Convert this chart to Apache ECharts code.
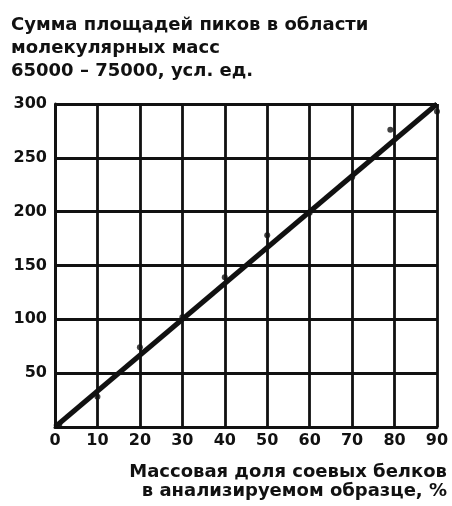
<!DOCTYPE html>
<html>
<head>
<meta charset="utf-8">
<script src="https://cdn.jsdelivr.net/npm/echarts@6/dist/echarts.min.js"></script>
<style>html,body{margin:0;padding:0;background:#fff}#c{width:452px;height:506px}</style>
</head>
<body>
<div id="c"></div>
<script>
const titleLines = ['Сумма площадей пиков в области', 'молекулярных масс', '65000 – 75000, усл. ед.'];
const xNameLines = ['Массовая доля соевых белков', 'в анализируемом образце, %'];
const pointX = [1, 10, 20, 30, 40, 50, 60, 70, 79, 90];
const pointY = [2, 28, 74, 102, 139, 178, 199, 232, 276, 293];
const lineX = [0, 90];
const lineY = [0, 300];
const xTicks = [0, 10, 20, 30, 40, 50, 60, 70, 80, 90];
const yTicks = [0, 50, 100, 150, 200, 250, 300];

const font = 'DejaVu Sans';
const chart = echarts.init(document.getElementById('c'));
chart.setOption({
  animation: false,
  backgroundColor: '#fff',
  grid: { left: 55, right: 15, top: 104, bottom: 79 },
  xAxis: {
    type: 'value', min: xTicks[0], max: xTicks[xTicks.length - 1], interval: 10,
    axisLine: { show: true, lineStyle: { color: '#111', width: 3 } },
    axisTick: { show: false },
    splitLine: { show: true, lineStyle: { color: '#111', width: 2.8 } },
    axisLabel: { color: '#111', fontFamily: font, fontWeight: 'bold', fontSize: 16, margin: 6 }
  },
  yAxis: {
    type: 'value', min: yTicks[0], max: yTicks[yTicks.length - 1], interval: 50,
    axisLine: { show: true, lineStyle: { color: '#111', width: 3 } },
    axisTick: { show: false },
    splitLine: { show: true, lineStyle: { color: '#111', width: 2.8 } },
    axisLabel: { color: '#111', fontFamily: font, fontWeight: 'bold', fontSize: 16, margin: 8, showMinLabel: false }
  },
  series: [
    {
      type: 'line', data: lineX.map((x, i) => [x, lineY[i]]),
      showSymbol: false, lineStyle: { color: '#111', width: 5 }, z: 3
    },
    {
      type: 'scatter', data: pointX.map((x, i) => [x, pointY[i]]),
      symbol: 'circle', symbolSize: 6, itemStyle: { color: '#111' }, z: 4
    }
  ],
  graphic: [
    ...titleLines.map((t, i) => ({
      type: 'text', left: 11, top: 16 + i * 23,
      style: { text: t, fill: '#111', font: 'bold 18px "' + font + '"' }
    })),
    ...xNameLines.map((t, i) => ({
      type: 'text', right: 5, top: 463 + i * 19,
      style: { text: t, fill: '#111', font: 'bold 18px "' + font + '"' }
    }))
  ]
});
</script>
</body>
</html>
